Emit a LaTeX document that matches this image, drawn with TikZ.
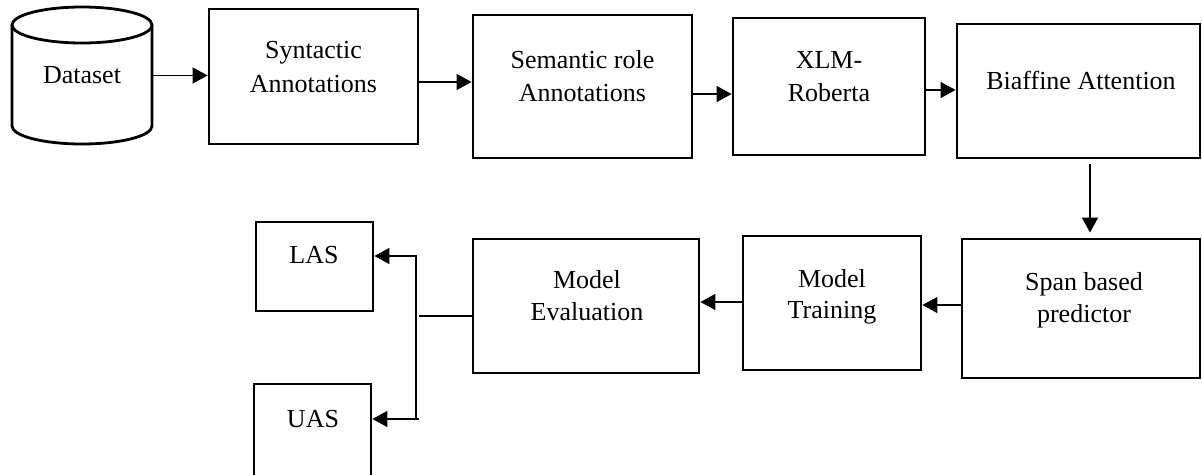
\documentclass[tikz,border=0pt]{standalone}
\usepackage{fontspec}
\setmainfont{Liberation Serif}
\usetikzlibrary{arrows.meta}
\begin{document}
\begin{tikzpicture}[x=1pt,y=-1pt,
  box/.style={draw, line width=2.8pt, inner sep=0pt, rectangle},
  lbl/.style={anchor=base, inner sep=0pt, font=\fontsize{26}{30}\selectfont},
  arr/.style={line width=1.3pt, -{Triangle[length=15pt,width=16pt]}},
  ln/.style={line width=1.3pt}]
\clip (0,0) rectangle (1202,474);
% dataset cylinder
\node[minimum width=140pt, minimum height=137pt, inner sep=0pt] (ds) at (82,75.5) {};
\draw[line width=2.8pt] (12,25) -- (12,126) arc[start angle=180, end angle=0, x radius=70, y radius=18] -- (152,25);
\draw[line width=2.8pt] (82,25) ellipse [x radius=70, y radius=18];
\node[lbl] (tds) at (82,83) {Dataset};
% boxes
\node[box, minimum width=209pt, minimum height=135pt] (syn) at (313.5,76.5) {};
\node[box, minimum width=219pt, minimum height=143pt] (sem) at (582.5,86.5) {};
\node[box, minimum width=192pt, minimum height=137pt] (xlm) at (829,86.5) {};
\node[box, minimum width=243pt, minimum height=134pt] (bia) at (1078.5,91) {};
\node[box, minimum width=238pt, minimum height=139pt] (span) at (1081,308.5) {};
\node[box, minimum width=178pt, minimum height=134pt] (tr) at (832,303) {};
\node[box, minimum width=226pt, minimum height=134pt] (ev) at (586,306) {};
\node[box, minimum width=117pt, minimum height=89pt] (las) at (314.5,266.5) {};
\node[box, minimum width=117pt, minimum height=96pt] (uas) at (312.5,432) {};
% texts
\node[lbl] (tsyn1) at (313.5,58) {Syntactic};
\node[lbl] (tsyn2) at (313.5,92) {Annotations};
\node[lbl] (tsem1) at (582.5,68) {Semantic role};
\node[lbl] (tsem2) at (582.5,101) {Annotations};
\node[lbl] (txlm1) at (829,68) {XLM-};
\node[lbl] (txlm2) at (829,101) {Roberta};
\node[lbl] (tbia) at (1081,89) {Biaffine Attention};
\node[lbl] (tspan1) at (1084,290) {Span based};
\node[lbl] (tspan2) at (1084,322) {predictor};
\node[lbl] (ttr1) at (832,287) {Model};
\node[lbl] (ttr2) at (832,318) {Training};
\node[lbl] (tev1) at (587,288) {Model};
\node[lbl] (tev2) at (587,320) {Evaluation};
\node[lbl] (tlas) at (314,263) {LAS};
\node[lbl] (tuas) at (313,427) {UAS};
% connectors
\draw[arr] (ds.east) -- (ds.east -| syn.west);
\draw[arr] ([yshift=-5.5pt]syn.east) -- ([yshift=-5.5pt]syn.east -| sem.west);
\draw[arr] ([yshift=-7.5pt]sem.east) -- ([yshift=-7.5pt]sem.east -| xlm.west);
\draw[arr] ([yshift=-3.5pt]xlm.east) -- ([yshift=-3.5pt]xlm.east -| bia.west);
\draw[arr, shorten <=5pt, shorten >=5pt] ([xshift=11.5pt]bia.south) -- ([xshift=11.5pt]bia.south |- span.north);
\draw[arr] ([yshift=3.5pt]span.west) -- ([yshift=3.5pt]span.west -| tr.east);
\draw[arr] ([yshift=1pt]tr.west) -- ([yshift=1pt]tr.west -| ev.east);
\coordinate (j) at (416,316);
\draw[ln] ([yshift=-10pt]ev.west) -- ([xshift=3pt]j);
\draw[arr] (j) |- ([yshift=10.5pt]las.east);
\draw[arr] ([xshift=3pt]j |- uas.east) ++(0,-13) -- ([yshift=13pt]uas.east);
\draw[ln] (j) -- (j |- 0,419);
\end{tikzpicture}
\end{document}
